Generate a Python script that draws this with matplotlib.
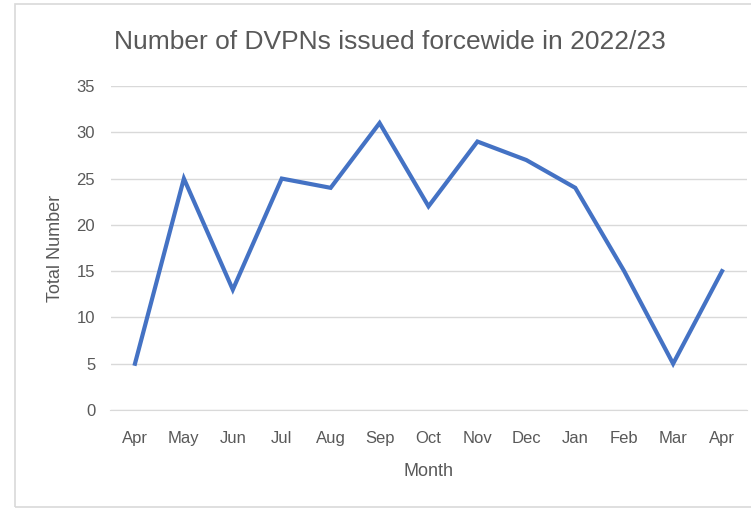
import matplotlib
matplotlib.use('Agg')
import matplotlib.pyplot as plt
from matplotlib.patches import Rectangle

months = ['Apr', 'May', 'Jun', 'Jul', 'Aug', 'Sep', 'Oct', 'Nov', 'Dec', 'Jan', 'Feb', 'Mar', 'Apr']
totals = [5, 25, 13, 25, 24, 31, 22, 29, 27, 24, 15, 5, 15]

plt.rcParams['font.family'] = ['Liberation Sans', 'DejaVu Sans']
grey = '#595959'

fig = plt.figure(figsize=(7.51, 5.09), dpi=100)
fig.patches.append(Rectangle((15 / 751, 2 / 509), 740 / 751, 503 / 509, transform=fig.transFigure,
                             fill=False, edgecolor='#d9d9d9', linewidth=1.2))
ax = fig.add_axes([110.5 / 751, 1 - 410 / 509, 636 / 751, 324 / 509])

x = list(range(len(months)))
ax.plot(x, totals, color='#4472C4', linewidth=3, solid_joinstyle='miter')

ax.set_xlim(-0.5, len(months) - 0.5)
ax.set_ylim(0, 35)
ax.set_yticks(range(0, 36, 5))
ax.set_xticks(x)
ax.set_xticklabels(months)
ax.grid(axis='y', color='#d9d9d9', linewidth=1)
ax.set_axisbelow(True)
for s in ['top', 'right', 'left']:
    ax.spines[s].set_visible(False)
ax.spines['bottom'].set_color('#d9d9d9')
ax.tick_params(length=0, colors=grey, labelsize=12)
ax.tick_params(axis='x', pad=15)
ax.tick_params(axis='y', pad=11)

ax.set_xlabel('Month', color=grey, fontsize=13, labelpad=12)
ax.set_ylabel('Total Number', color=grey, fontsize=13)
ax.yaxis.set_label_coords(-0.073, 0.5)
fig.text(390 / 751, 1 - 42 / 509, 'Number of DVPNs issued forcewide in 2022/23', ha='center', va='center',
         fontsize=19, color=grey)

fig.savefig('out.png', dpi=100)
